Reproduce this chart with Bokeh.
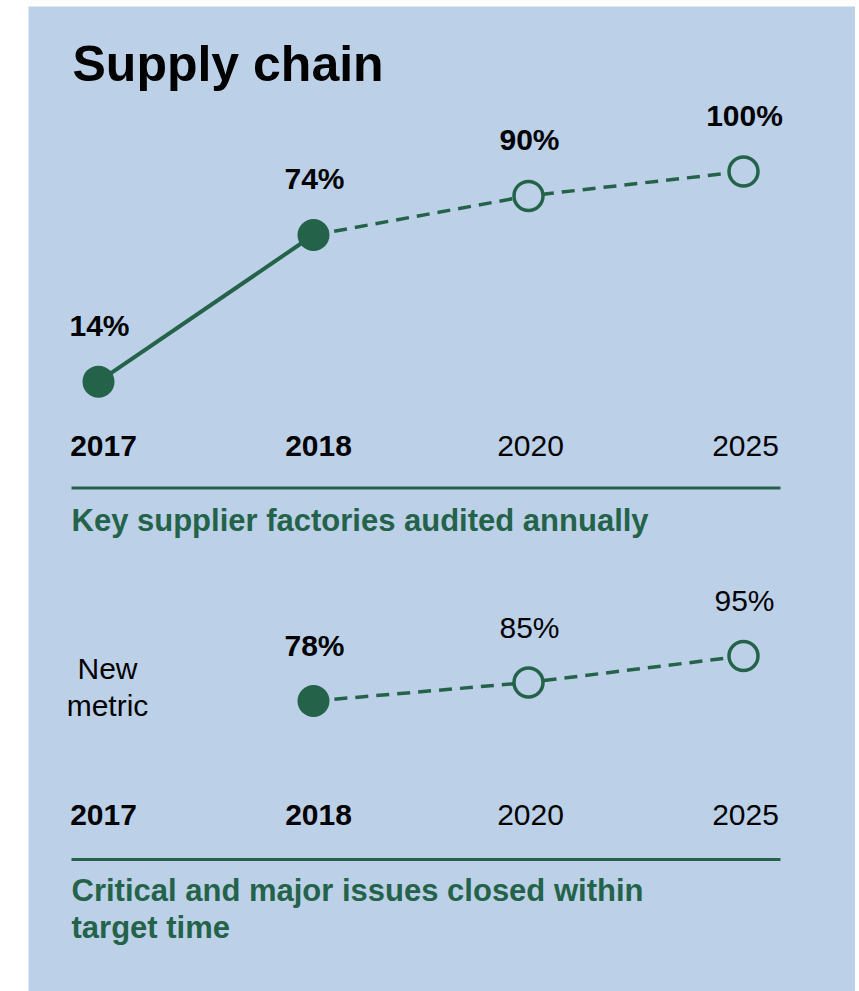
from bokeh.plotting import figure
from bokeh.models import Range1d
from bokeh.core.properties import value
from bokeh.embed import file_html
from bokeh.resources import INLINE

# ---------------- data ----------------
years = ["2017", "2018", "2020", "2025"]
is_target = [False, False, True, True]          # 2020 and 2025 are targets
audited_pct = [14, 74, 90, 100]                 # Key supplier factories audited annually
closed_pct = [None, 78, 85, 95]                 # Critical and major issues closed within target time
title = "Supply chain"
subtitle_1 = ["Key supplier factories audited annually"]
subtitle_2 = ["Critical and major issues closed within", "target time"]
new_metric_note = ["New", "metric"]

# ---------------- style ----------------
BG = "#BCD1E8"
GREEN = "#24634A"
FONT = value("Liberation Sans")

idx = list(range(len(years)))

p = figure(width=855, height=991,
           x_range=Range1d(0, 827), y_range=Range1d(985, 0),
           output_backend="svg", toolbar_location=None,
           min_border_left=28, min_border_right=0, min_border_top=6, min_border_bottom=0,
           x_axis_type=None, y_axis_type=None,
           background_fill_color=BG, border_fill_color="white",
           outline_line_color=None)
p.xgrid.visible = False
p.ygrid.visible = False

p.extra_x_ranges = {"yr": Range1d(-0.32558, 3.52093)}
p.extra_y_ranges = {"c1": Range1d(-235.54, 167.49), "c2": Range1d(-31.75, 340.37)}

# ---------------- title ----------------
p.text(x=[44], y=[57], text=[title], text_font=FONT, text_font_size="50px",
       text_font_style="bold", text_color="black", text_baseline="alphabetic", text_align="left")

# ---------------- chart 1 ----------------
act = [i for i in idx if not is_target[i]]
tgt = [i for i in idx if is_target[i]]
dash_from = act[-1]

p.line(x=act, y=[audited_pct[i] for i in act], line_width=4, line_color=GREEN,
       x_range_name="yr", y_range_name="c1")
seg = [dash_from] + tgt
p.line(x=seg, y=[audited_pct[i] for i in seg], line_width=3.5, line_color=GREEN,
       line_dash="13 8", x_range_name="yr", y_range_name="c1")
p.scatter(x=act, y=[audited_pct[i] for i in act], size=32, fill_color=GREEN, line_color=None,
          x_range_name="yr", y_range_name="c1")
p.scatter(x=tgt, y=[audited_pct[i] for i in tgt], size=29, fill_color=BG, line_color=GREEN,
          line_width=3.5, x_range_name="yr", y_range_name="c1")
p.text(x=idx, y=audited_pct, text=[f"{v}%" for v in audited_pct], text_font=FONT,
       text_font_size="30px", text_font_style="bold", text_color="black",
       text_align="center", text_baseline="alphabetic", y_offset=-56, x_offset=1,
       x_range_name="yr", y_range_name="c1")

# year labels chart 1
p.text(x=act, y=[439] * len(act), text=[years[i] for i in act], text_font=FONT,
       text_font_size="30px", text_font_style="bold", text_color="black",
       text_align="center", text_baseline="alphabetic", x_offset=5, x_range_name="yr")
p.text(x=tgt, y=[439] * len(tgt), text=[years[i] for i in tgt], text_font=FONT,
       text_font_size="30px", text_font_style="normal", text_color="black",
       text_align="center", text_baseline="alphabetic", x_offset=2, x_range_name="yr")

p.segment(x0=[43], y0=[481.5], x1=[752], y1=[481.5], line_width=3, line_color=GREEN)
p.text(x=[43] * len(subtitle_1), y=[513.5], text=subtitle_1, text_font=FONT,
       text_font_size="31px", text_font_style="bold", text_color=GREEN,
       text_align="left", text_baseline="alphabetic")

# ---------------- chart 2 ----------------
have = [i for i in idx if closed_pct[i] is not None]
act2 = [i for i in have if not is_target[i]]
tgt2 = [i for i in have if is_target[i]]
p.line(x=have, y=[closed_pct[i] for i in have], line_width=3.5, line_color=GREEN,
       line_dash="13 8", x_range_name="yr", y_range_name="c2")
p.scatter(x=act2, y=[closed_pct[i] for i in act2], size=32, fill_color=GREEN, line_color=None,
          x_range_name="yr", y_range_name="c2")
p.scatter(x=tgt2, y=[closed_pct[i] for i in tgt2], size=29, fill_color=BG, line_color=GREEN,
          line_width=3.5, x_range_name="yr", y_range_name="c2")
p.text(x=act2, y=[closed_pct[i] for i in act2], text=[f"{closed_pct[i]}%" for i in act2],
       text_font=FONT, text_font_size="30px", text_font_style="bold", text_color="black",
       text_align="center", text_baseline="alphabetic", y_offset=-55, x_offset=1,
       x_range_name="yr", y_range_name="c2")
p.text(x=tgt2, y=[closed_pct[i] for i in tgt2], text=[f"{closed_pct[i]}%" for i in tgt2],
       text_font=FONT, text_font_size="30px", text_font_style="normal", text_color="black",
       text_align="center", text_baseline="alphabetic", y_offset=-55, x_offset=1,
       x_range_name="yr", y_range_name="c2")

# "New metric" note
p.text(x=[79, 79], y=[662, 698.7], text=new_metric_note, text_font=FONT,
       text_font_size="30px", text_font_style="normal", text_color="black",
       text_align="center", text_baseline="alphabetic")

# year labels chart 2
p.text(x=act, y=[808.7] * len(act), text=[years[i] for i in act], text_font=FONT,
       text_font_size="30px", text_font_style="bold", text_color="black",
       text_align="center", text_baseline="alphabetic", x_offset=5, x_range_name="yr")
p.text(x=tgt, y=[808.7] * len(tgt), text=[years[i] for i in tgt], text_font=FONT,
       text_font_size="30px", text_font_style="normal", text_color="black",
       text_align="center", text_baseline="alphabetic", x_offset=2, x_range_name="yr")

p.segment(x0=[43], y0=[853], x1=[752], y1=[853], line_width=3, line_color=GREEN)
p.text(x=[43] * len(subtitle_2), y=[883.5, 920.8], text=subtitle_2, text_font=FONT,
       text_font_size="31px", text_font_style="bold", text_color=GREEN,
       text_align="left", text_baseline="alphabetic")

open("out.html", "w").write(file_html(p, INLINE))
